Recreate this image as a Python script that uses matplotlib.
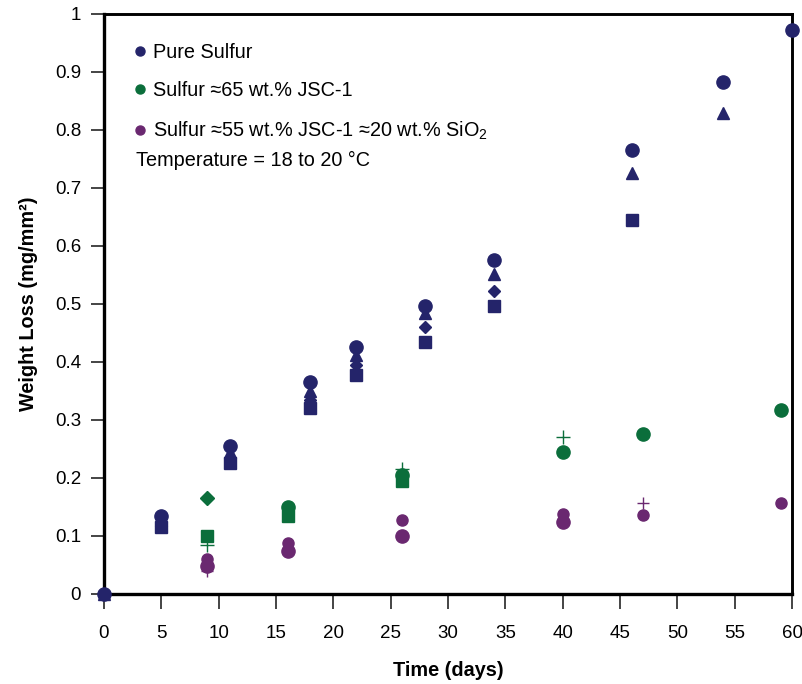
import matplotlib
matplotlib.use("Agg")
import matplotlib.pyplot as plt
from matplotlib.lines import Line2D

plt.rcParams['font.family'] = ['Liberation Sans', 'DejaVu Sans']
plt.rcParams['mathtext.fontset'] = 'custom'
plt.rcParams['mathtext.rm'] = 'Liberation Sans'

# colours of the three materials
navy = '#24246a'
green = '#0b6e3b'
purple = '#6a2870'

# Pure sulfur, four specimens (None = no point)
pure_days = [0, 5, 11, 18, 22, 28, 34, 46, 54, 60]
pure_a = [0.0, 0.135, 0.255, 0.365, 0.425, 0.497, 0.575, 0.766, 0.883, 0.972]
pure_b = [0.0, 0.128, 0.245, 0.350, 0.412, 0.485, 0.552, 0.726, 0.829, None]
pure_c = [None, 0.120, 0.235, 0.335, 0.395, 0.460, 0.523, None, None, None]
pure_d = [None, 0.115, 0.225, 0.320, 0.378, 0.434, 0.496, 0.645, None, None]

# Sulfur ~65 wt.% JSC-1
jsc_days = [9, 16, 26, 40, 47, 59]
jsc_a = [0.165, 0.150, 0.205, 0.245, 0.275, 0.317]
jsc_b = [0.100, 0.135, 0.195, None, None, None]
jsc_c = [0.085, None, 0.215, 0.271, None, None]

# Sulfur ~55 wt.% JSC-1 ~20 wt.% SiO2
sio_days = [9, 16, 26, 40, 47, 59]
sio_a = [0.060, 0.088, 0.128, 0.138, 0.136, 0.157]
sio_b = [0.048, 0.074, 0.100, 0.124, None, None]
sio_c = [0.040, None, None, None, 0.157, None]

fig = plt.figure(figsize=(8.03, 6.84), dpi=100)
ax = fig.add_axes([0.1295, 0.1316, 0.857, 0.848])


def scatter(days, vals, marker, color, size):
    xs = [d for d, v in zip(days, vals) if v is not None]
    ys = [v for v in vals if v is not None]
    ax.plot(xs, ys, linestyle='none', marker=marker, color=color,
            markersize=size, clip_on=False, zorder=5)


scatter(pure_days, pure_d, 's', navy, 8.5)
scatter(pure_days, pure_c, 'D', navy, 6.5)
scatter(pure_days, pure_b, '^', navy, 8.5)
scatter(pure_days, pure_a, 'o', navy, 9.5)

scatter(jsc_days, jsc_c, '+', green, 10)
scatter(jsc_days, jsc_b, 's', green, 8.5)
scatter(jsc_days, jsc_a[:1], 'D', green, 7.5)
scatter(jsc_days[1:], jsc_a[1:], 'o', green, 9.5)

scatter(sio_days, sio_c, '+', purple, 8)
scatter(sio_days, sio_b, 'o', purple, 9.5)
scatter(sio_days, sio_a, 'o', purple, 8)

ax.set_xlim(0, 60)
ax.set_ylim(0, 1)
ax.set_xticks(range(0, 61, 5))
ax.set_yticks([0, 0.1, 0.2, 0.3, 0.4, 0.5, 0.6, 0.7, 0.8, 0.9, 1])
ax.set_yticklabels(['0', '0.1', '0.2', '0.3', '0.4', '0.5', '0.6', '0.7', '0.8', '0.9', '1'])
ax.tick_params(axis='both', direction='out', labelsize=13.5, color='#444444', width=1.4)
ax.tick_params(axis='x', length=11, pad=11)
ax.tick_params(axis='y', length=9.5, pad=7)

for side in ['left', 'bottom']:
    ax.spines[side].set_linewidth(2.4)
for side in ['top', 'right']:
    ax.spines[side].set_linewidth(2.1)

ax.set_xlabel('Time (days)', fontsize=14.3, fontweight='bold', labelpad=14)
ax.set_ylabel('Weight Loss (mg/mm²)', fontsize=14.3, fontweight='bold', labelpad=12)

labels = ['Pure Sulfur', 'Sulfur ≈65 wt.% JSC-1', r'Sulfur ≈55 wt.% JSC-1 ≈20 wt.% SiO$_2$']
handles = [Line2D([], [], linestyle='none', marker='o', color=c, markersize=6.5)
           for c in [navy, green, purple]]
leg = ax.legend(handles, labels, loc='upper left', frameon=False, fontsize=14.3,
                handlelength=0.6, handletextpad=0.38, labelspacing=0.98,
                borderpad=0, borderaxespad=0, bbox_to_anchor=(0.0436, 0.950))

ax.text(0.0465, 0.748, 'Temperature = 18 to 20 °C', transform=ax.transAxes,
        fontsize=14.3, va='center', ha='left')

fig.savefig('out.png', dpi=100)
